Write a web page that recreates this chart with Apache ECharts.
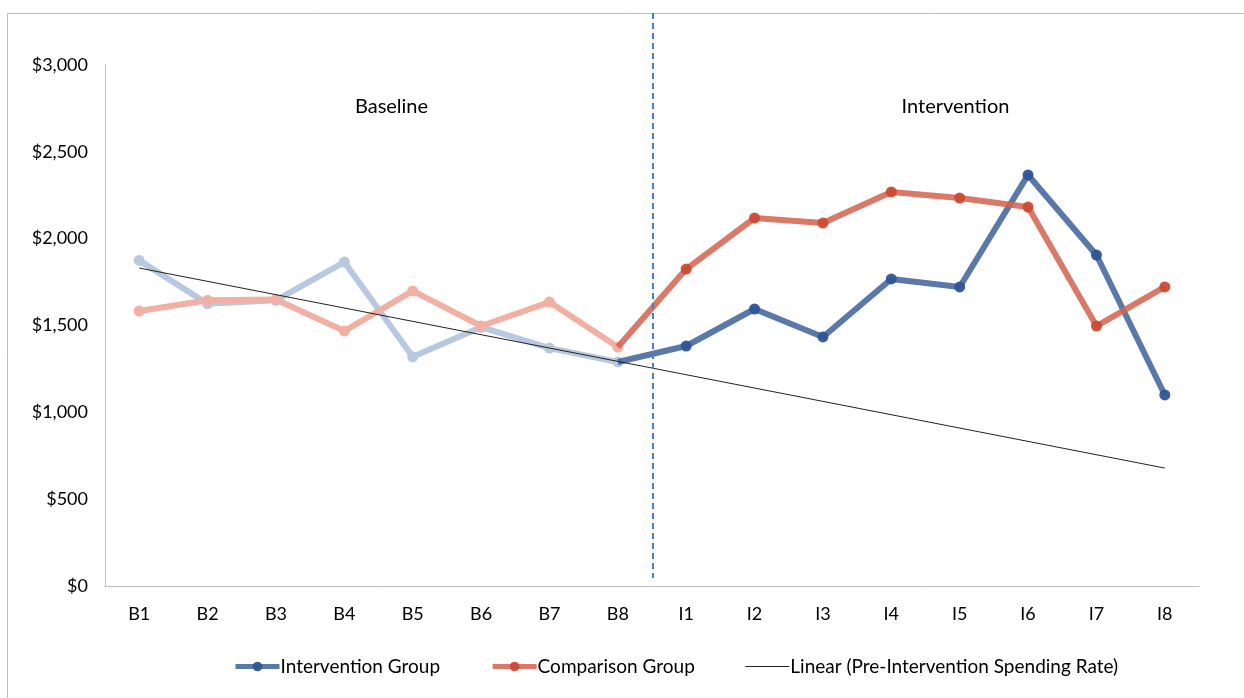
<!DOCTYPE html>
<html>
<head>
<meta charset="utf-8">
<script src="https://cdn.jsdelivr.net/npm/echarts@6/dist/echarts.min.js"></script>
<style>
html,body{margin:0;padding:0;background:#fff;}
#chart{width:1244px;height:698px;}
</style>
</head>
<body>
<div id="chart"></div>
<script>
const categories = ['B1','B2','B3','B4','B5','B6','B7','B8','I1','I2','I3','I4','I5','I6','I7','I8'];
const interventionGroup = [1875, 1625, 1645, 1865, 1320, 1490, 1370, 1290, 1382, 1595, 1434, 1768, 1722, 2367, 1906, 1100];
const comparisonGroup   = [1583, 1645, 1650, 1468, 1699, 1497, 1635, 1376, 1825, 2119, 2090, 2269, 2234, 2182, 1497, 1722];
const trendStart = 1831;   // value of linear trend at B1
const trendEnd = 679;      // value of linear trend at I8
const baselineCount = 8;
const yTicks = [0, 500, 1000, 1500, 2000, 2500, 3000];

const FONT = 'Lato, "Open Sans", sans-serif';

function part(arr, from, to, hideFirstSymbol) {
  return arr.map((v, i) => {
    if (i < from || i > to) return null;
    if (hideFirstSymbol && i === from) return { value: v, symbolSize: 0 };
    return v;
  });
}
const trendData = categories.map((c, i) => i === 0 ? trendStart : (i === categories.length - 1 ? trendEnd : null));

const chart = echarts.init(document.getElementById('chart'), null, { renderer: 'canvas' });

const option = {
  animation: false,
  backgroundColor: '#fff',
  textStyle: { fontFamily: FONT },
  grid: { left: 105, right: 45, top: 65, bottom: 112, containLabel: false },
  xAxis: {
    type: 'category',
    data: categories,
    boundaryGap: true,
    axisLine: { show: true, lineStyle: { color: '#bfbfbf', width: 1 } },
    axisTick: { show: false },
    axisLabel: { color: '#000', fontSize: 18, margin: 19, fontFamily: FONT },
    splitLine: { show: false }
  },
  yAxis: {
    type: 'value',
    min: yTicks[0],
    max: yTicks[yTicks.length - 1],
    interval: 500,
    axisLine: { show: true, lineStyle: { color: '#bfbfbf', width: 1 } },
    axisTick: { show: false },
    splitLine: { show: false },
    axisLabel: {
      color: '#000', fontSize: 18, margin: 17, fontFamily: FONT,
      formatter: v => '$' + v.toLocaleString('en-US')
    }
  },
  legend: {
    data: [
      { name: 'Intervention Group', lineStyle: { width: 5 } },
      { name: 'Comparison Group', lineStyle: { width: 5 } },
      { name: 'Linear (Pre-Intervention Spending Rate)', itemStyle: { opacity: 0 }, lineStyle: { width: 1 } }
    ],
    left: 228,
    top: 652,
    itemWidth: 44,
    itemHeight: 12,
    itemGap: 50,
    textStyle: { color: '#000', fontSize: 19, fontFamily: FONT, padding: [0, 0, 0, -4] }
  },
  series: [
    {
      name: 'Linear (Pre-Intervention Spending Rate)',
      type: 'line',
      data: trendData,
      connectNulls: true,
      showSymbol: false,
      symbol: 'none',
      lineStyle: { color: '#222', width: 1 },
      itemStyle: { color: '#222' },
      z: 5
    },
    {
      name: 'Intervention Group',
      type: 'line',
      data: part(interventionGroup, baselineCount - 1, categories.length - 1, true),
      symbol: 'circle',
      symbolSize: 11,
      lineStyle: { color: '#3d619b', width: 6, opacity: 0.85 },
      itemStyle: { color: '#2f5597', opacity: 0.95 },
      z: 3
    },
    {
      name: 'Comparison Group',
      type: 'line',
      data: part(comparisonGroup, baselineCount - 1, categories.length - 1, true),
      symbol: 'circle',
      symbolSize: 11,
      lineStyle: { color: '#d5614d', width: 6, opacity: 0.85 },
      itemStyle: { color: '#cc4a33', opacity: 0.95 },
      z: 3
    },
    {
      name: 'Intervention Baseline',
      type: 'line',
      data: part(interventionGroup, 0, baselineCount - 1, false),
      symbol: 'circle',
      symbolSize: 11,
      lineStyle: { color: '#b7c8e0', width: 6 },
      itemStyle: { color: '#b7c8e0' },
      z: 2
    },
    {
      name: 'Comparison Baseline',
      type: 'line',
      data: part(comparisonGroup, 0, baselineCount - 1, false),
      symbol: 'circle',
      symbolSize: 11,
      lineStyle: { color: '#f2b0a4', width: 6 },
      itemStyle: { color: '#f2b0a4' },
      z: 2
    }
  ]
};
chart.setOption(option);

// Divider between baseline and intervention periods, placed via the axis scale
const xB8 = chart.convertToPixel({ xAxisIndex: 0 }, categories[baselineCount - 1]);
const xI1 = chart.convertToPixel({ xAxisIndex: 0 }, categories[baselineCount]);
const xDiv = (xB8 + xI1) / 2 + 1;
const xB4 = chart.convertToPixel({ xAxisIndex: 0 }, categories[3]);
const xB5 = chart.convertToPixel({ xAxisIndex: 0 }, categories[4]);
const xI4 = chart.convertToPixel({ xAxisIndex: 0 }, categories[11]);
const xI5 = chart.convertToPixel({ xAxisIndex: 0 }, categories[12]);

chart.setOption({
  graphic: [
    {
      type: 'rect',
      shape: { x: 7.5, y: 13.5, width: 1260, height: 720 },
      style: { fill: null, stroke: '#bfbfbf', lineWidth: 1 },
      silent: true, z: -10
    },
    {
      type: 'line',
      shape: { x1: xDiv, y1: 13, x2: xDiv, y2: 578 },
      style: { stroke: '#4a7fc8', lineWidth: 2, lineDash: [6, 4] },
      silent: true, z: 10
    },
    {
      type: 'text',
      x: (xB4 + xB5) / 2 + 13, y: 107,
      style: { text: 'Baseline', fill: '#000', font: '20px ' + FONT, textAlign: 'center', textVerticalAlign: 'middle' },
      silent: true
    },
    {
      type: 'text',
      x: (xI4 + xI5) / 2 + 30, y: 107,
      style: { text: 'Intervention', fill: '#000', font: '20px ' + FONT, textAlign: 'center', textVerticalAlign: 'middle' },
      silent: true
    }
  ]
});
</script>
</body>
</html>
